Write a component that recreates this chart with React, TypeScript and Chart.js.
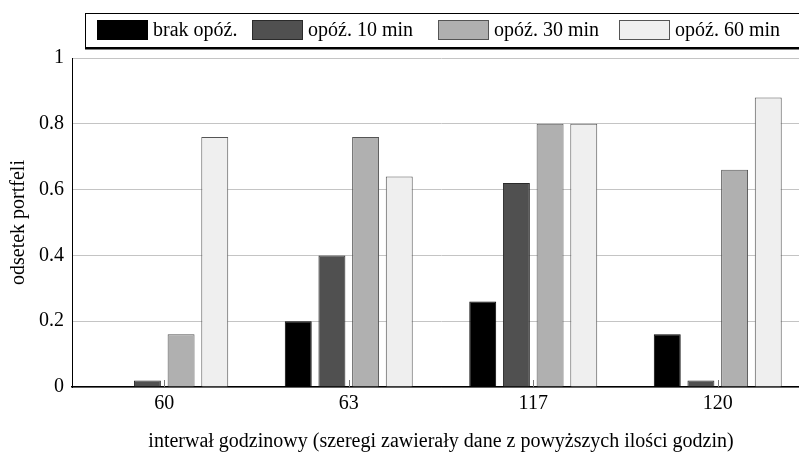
import React, { useEffect, useRef } from "react";
import { Chart, registerables } from "chart.js";

Chart.register(...registerables);

const categories = ["60", "63", "117", "120"];
const seriesNames = ["brak opóź.", "opóź. 10 min", "opóź. 30 min", "opóź. 60 min"];
const brakOpoz = [0, 0.2, 0.26, 0.16];
const opoz10 = [0.02, 0.4, 0.62, 0.02];
const opoz30 = [0.16, 0.76, 0.8, 0.66];
const opoz60 = [0.76, 0.64, 0.8, 0.88];
const yTicks = [0, 0.2, 0.4, 0.6, 0.8, 1];
const yTickLabels = ["0", "0.2", "0.4", "0.6", "0.8", "1"];
const xTitle = "interwał godzinowy (szeregi zawierały dane z powyższych ilości godzin)";
const yTitle = "odsetek portfeli";

const fills = ["#000000", "#505050", "#b0b0b0", "#efefef"];
const borders = ["#000000", "#2a2a2a", "#555555", "#555555"];
const FONT = '"Liberation Serif", "Times New Roman", serif';

const legendPlugin = {
  id: "customLegend",
  afterDraw(chart: any) {
    const ctx = chart.ctx;
    ctx.save();
    ctx.strokeStyle = "#000";
    ctx.lineWidth = 1;
    ctx.strokeRect(85.5, 13.5, 740, 35);
    ctx.fillStyle = "#000";
    ctx.fillRect(85, 47, 740, 2.5);
    const xs = [97, 252, 438, 619];
    ctx.font = `20px ${FONT}`;
    ctx.textBaseline = "middle";
    ctx.textAlign = "left";
    chart.data.datasets.forEach((ds: any, i: number) => {
      const x = xs[i];
      ctx.fillStyle = ds.backgroundColor;
      ctx.fillRect(x, 20, 51, 20);
      ctx.strokeStyle = ds.borderColor;
      ctx.lineWidth = 1;
      ctx.strokeRect(x + 0.5, 20.5, 50, 19);
      ctx.fillStyle = "#000";
      ctx.fillText(ds.label, x + 56, 31);
    });
    ctx.restore();
  },
};

const tickMarkPlugin = {
  id: "tickMarks",
  afterDatasetsDraw(chart: any) {
    const ctx = chart.ctx;
    const xs = chart.scales.x;
    const bottom = chart.chartArea.bottom;
    ctx.save();
    ctx.strokeStyle = "#777";
    ctx.lineWidth = 1;
    for (let i = 0; i < chart.data.labels.length; i++) {
      const px = Math.round(xs.getPixelForValue(i)) + 0.5;
      ctx.beginPath();
      ctx.moveTo(px, bottom);
      ctx.lineTo(px, bottom - 7);
      ctx.stroke();
    }
    ctx.restore();
  },
};

export default function App() {
  const ref = useRef<HTMLCanvasElement>(null);
  useEffect(() => {
    if (!ref.current) return;
    const values = [brakOpoz, opoz10, opoz30, opoz60];
    const chart = new Chart(ref.current, {
      type: "bar",
      data: {
        labels: categories,
        datasets: values.map((v, i) => ({
          label: seriesNames[i],
          data: v,
          backgroundColor: fills[i],
          borderColor: borders[i],
          borderWidth: 1,
          categoryPercentage: 0.73,
          barPercentage: 0.8,
        })),
      },
      options: {
        responsive: false,
        animation: false,
        devicePixelRatio: 1,
        layout: { padding: { top: 58, right: 5, left: 0, bottom: 0 } },
        plugins: { legend: { display: false }, tooltip: { enabled: false } },
        scales: {
          y: {
            min: 0,
            max: 1,
            afterFit: (s: any) => {
              s.width = 72;
            },
            afterBuildTicks: (s: any) => {
              s.ticks = yTicks.map((v) => ({ value: v }));
            },
            ticks: {
              font: { family: FONT, size: 20 },
              color: "#000",
              padding: 8,
              callback: (_v: any, i: number) => yTickLabels[i],
            },
            grid: { color: "#c4c4c4", lineWidth: 1, drawTicks: false },
            border: { color: "#000", width: 1 },
            title: {
              display: true,
              text: yTitle,
              font: { family: FONT, size: 20 },
              color: "#000",
              padding: { top: 7, bottom: 0 },
            },
          },
          x: {
            afterFit: (s: any) => {
              s.height = 68;
            },
            ticks: {
              font: { family: FONT, size: 20 },
              color: "#000",
              padding: 5,
            },
            grid: { display: false, drawTicks: false },
            border: { display: true, color: "#000", width: 1.5 },
            title: {
              display: true,
              text: xTitle,
              font: { family: FONT, size: 20 },
              color: "#000",
              padding: { top: 0, bottom: 1 },
            },
          },
        },
      },
      plugins: [legendPlugin, tickMarkPlugin],
    });
    return () => chart.destroy();
  }, []);
  return (
    <div
      style={{
        position: "absolute",
        left: 0,
        top: 0,
        width: 799,
        height: 455,
        overflow: "hidden",
        background: "#fff",
      }}
    >
      <canvas ref={ref} width={815} height={455} style={{ display: "block" }} />
    </div>
  );
}
